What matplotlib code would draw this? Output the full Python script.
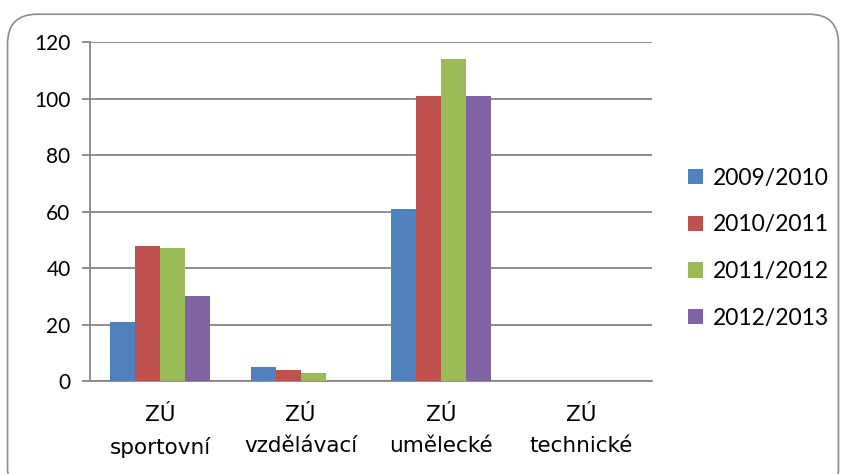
import matplotlib
matplotlib.use("Agg")
import matplotlib.pyplot as plt
import numpy as np
from matplotlib.patches import FancyBboxPatch

plt.rcParams['font.family'] = ['Lato', 'DejaVu Sans']

# data
categories = ["ZÚ\nsportovní", "ZÚ\nvzdělávací", "ZÚ\numělecké", "ZÚ\ntechnické"]
years = ["2009/2010", "2010/2011", "2011/2012", "2012/2013"]
v_2009 = [21, 5, 61, 0]
v_2010 = [48, 4, 101, 0]
v_2011 = [47, 3, 114, 0]
v_2012 = [30, 0, 101, 0]
series = [v_2009, v_2010, v_2011, v_2012]
colors = ["#4f81bd", "#c0504d", "#9bbb59", "#8064a2"]

fig = plt.figure(figsize=(8.41, 4.74), dpi=100)

# rounded chart border
frame = FancyBboxPatch((0.009, -0.05), 0.988, 1.02, transform=fig.transFigure,
                       boxstyle="round,pad=0,rounding_size=0.035",
                       fc="none", ec="#8c8c8c", lw=1.2, mutation_aspect=841/474)
fig.patches.append(frame)

ax = fig.add_axes([0.107, 0.196, 0.668, 0.715])
x = np.arange(len(categories))
bw = 0.178
for i, (vals, c, lab) in enumerate(zip(series, colors, years)):
    ax.bar(x + (i - 1.5) * bw, vals, bw, color=c, label=lab, zorder=3)

ax.set_xlim(-0.5, 3.5)
ax.set_ylim(0, 120)
ax.set_yticks(range(0, 121, 20))
ax.yaxis.grid(True, color="#868686", lw=1.3, zorder=0)
ax.set_xticks(x)
ax.set_xticklabels(categories, fontsize=15.5, linespacing=1.7,
                   family=["DejaVu Sans"])
ax.tick_params(axis="x", length=0, pad=17)
ax.tick_params(axis="y", length=6, width=1.3, color="#868686", labelsize=15, pad=8)
for s in ["top", "right"]:
    ax.spines[s].set_visible(False)
for s in ["left", "bottom"]:
    ax.spines[s].set_color("#868686")
    ax.spines[s].set_linewidth(1.3)

ax.legend(loc="center left", bbox_to_anchor=(1.023, 0.392), frameon=False,
          fontsize=16.5, handlelength=0.65, handleheight=0.65, handletextpad=0.45,
          labelspacing=1.12, borderaxespad=0.6)

fig.savefig("out.png", dpi=100)
